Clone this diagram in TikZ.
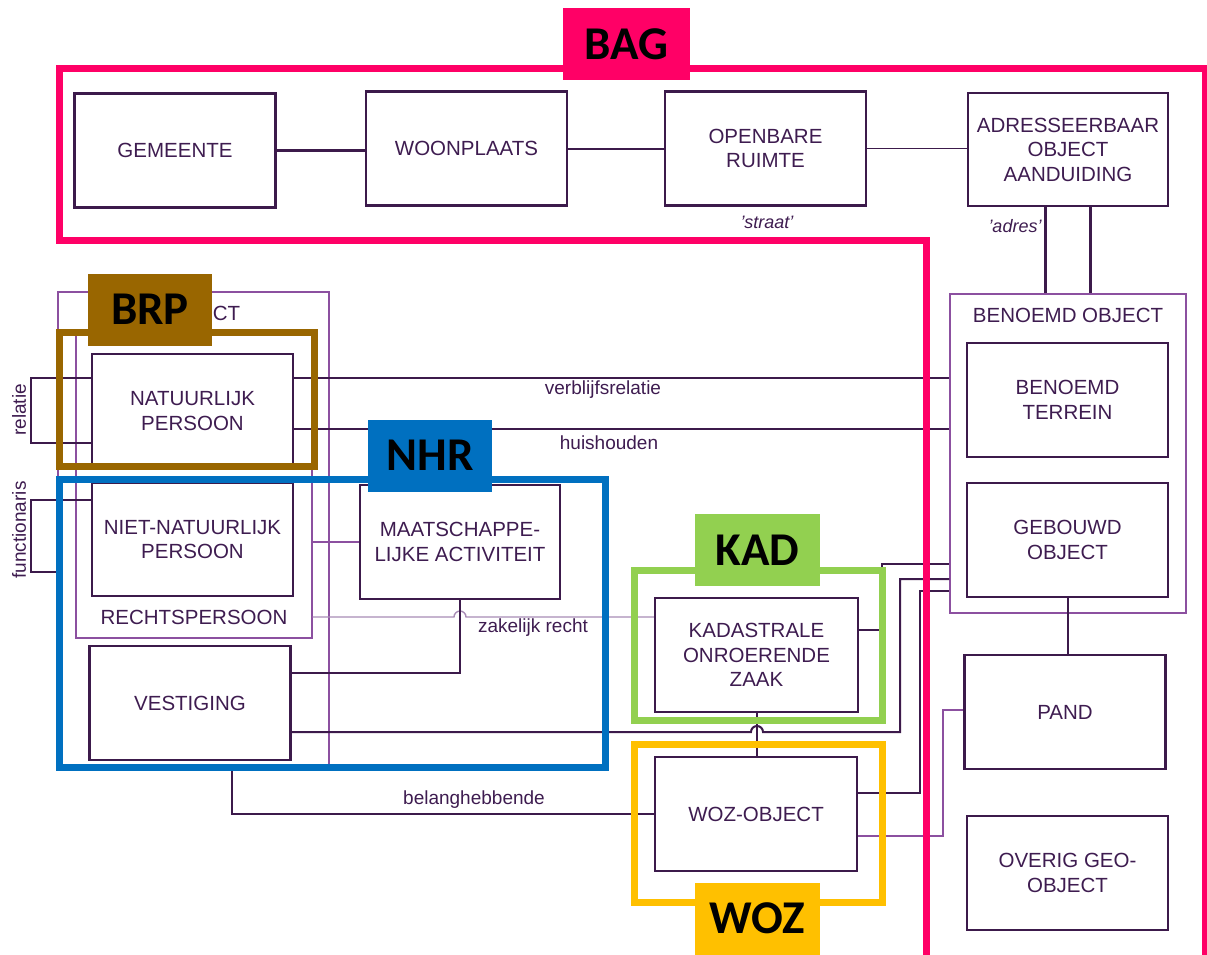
\documentclass[tikz,border=0pt]{standalone}
\usepackage{fontspec}
\setmainfont{Liberation Sans}
\newfontfamily\badgefont{Carlito}

\definecolor{boxline}{HTML}{3C1A4B}
\definecolor{boxtext}{HTML}{3E1C50}
\definecolor{thinline}{HTML}{8C50A0}
\definecolor{paleline}{HTML}{A88CB6}
\definecolor{bagpink}{HTML}{FF0066}
\definecolor{brpbrown}{HTML}{996600}
\definecolor{nhrblue}{HTML}{0070C0}
\definecolor{kadgreen}{HTML}{92D050}
\definecolor{wozgold}{HTML}{FFC000}

\tikzset{
  entity/.style={draw=boxline, line width=2.2pt, minimum width=201pt, minimum height=114pt,
    inner sep=0pt, align=center, text=boxtext, font=\fontsize{20.5}{24.5}\selectfont},
  group/.style={draw=thinline, line width=1.3pt, inner sep=0pt},
  grouptitle/.style={text=boxtext, font=\fontsize{20.5}{24.5}\selectfont},
  link/.style={draw=boxline, line width=2pt},
  thinlink/.style={draw=thinline, line width=1.4pt},
  palelink/.style={draw=paleline, line width=1.4pt},
  linklabel/.style={text=boxtext, font=\fontsize{19}{22}\selectfont},
  rolelabel/.style={text=boxtext, font=\fontsize{18}{22}\selectfont\itshape},
  regframe/.style={line width=7pt},
  badge/.style={minimum width=125pt, minimum height=72pt, inner sep=0pt, text=black,
    font=\badgefont\bfseries\fontsize{47}{50}\selectfont},
}

\begin{document}
\begin{tikzpicture}[x=1pt,y=-1pt]
		\useasboundingbox (0,0) rectangle (1207,954);
		
		% groups
		\node[group, minimum width=271pt, minimum height=476pt] (subj) at (193.5,530) {};
		\node[grouptitle] at (193.5,313) {SUBJECT};
		\node[group, minimum width=236pt, minimum height=303pt] (rp) at (194,486.5) {};
		\node[grouptitle] at (194,617) {RECHTSPERSOON};
		\node[group, minimum width=236pt, minimum height=319pt] (bo) at (1068,453.5) {};
		\node[grouptitle] at (1068,315) {BENOEMD OBJECT};
		
		% BAG
		\node[entity] (gem) at (175,150.5) {GEMEENTE};
		\node[entity] (woon) at (466.5,148.5) {WOONPLAATS};
		\node[entity] (opr) at (765.5,148.5) {OPENBARE\\RUIMTE};
		\node[entity, minimum width=200pt, minimum height=113pt] (aoa) at (1068,149.5) {ADRESSEERBAAR\\OBJECT\\AANDUIDING};
		\node[entity] (bt) at (1067.5,400) {BENOEMD\\TERREIN};
		\node[entity] (go) at (1067.5,540) {GEBOUWD\\OBJECT};
		\node[entity] (pand) at (1065,712) {PAND};
		\node[entity] (ovg) at (1067.5,873) {OVERIG GEO-\\OBJECT};
		
		% subjects
		\node[entity] (np) at (192.5,411) {NATUURLIJK\\PERSOON};
		\node[entity, minimum height=113pt] (nnp) at (192.5,539.5) {NIET-NATUURLIJK\\PERSOON};
		\node[entity] (vest) at (190,703) {VESTIGING};
		\node[entity, minimum width=200pt] (ma) at (460,542) {MAATSCHAPPE-\\LIJKE ACTIVITEIT};
		
		% KAD / WOZ
		\node[entity, minimum width=203pt] (koz) at (756.5,655) {KADASTRALE\\ONROERENDE\\ZAAK};
		\node[entity, minimum width=202pt] (woz) at (756,814) {WOZ-OBJECT};
		
		% BAG links
		\draw[link, line width=3pt] (gem.east) -- (gem.east -| woon.west);
		\draw[link] (woon.east) -- (opr.west);
		\draw[thinlink, draw=boxline] (opr.east) -- (opr.east -| aoa.west);
		\node[rolelabel] at (767,222) {'straat'};
		\node[rolelabel] at (1015,226) {'adres'};
		\draw[link, line width=3pt] (aoa.south -| 1045,0) -- (bo.north -| 1045,0);
		\draw[link, line width=3pt] (aoa.south -| 1090,0) -- (bo.north -| 1090,0);
		\draw[link] (go.south) -- (go.south |- pand.north);
		
		% subject links
		\draw[link] (np.west |- 0,378) -| (31,443) -- (np.west |- 0,443);
		\node[linklabel, rotate=90] at (19,410) {relatie};
		\draw[link] (nnp.west |- 0,500) -| (31,572) -- (subj.west |- 0,572);
		\node[linklabel, rotate=90] at (19,530) {functionaris};
		\draw[link] (np.east |- 0,378) -- (bo.west |- 0,378);
		\node[linklabel] at (603,390) {verblijfsrelatie};
		\draw[link] (np.east |- 0,429) -- (bo.west |- 0,429);
		\node[linklabel] at (609,443) {huishouden};
		\draw[thinlink] (rp.east |- ma.west) -- (ma.west);
		\draw[palelink] (rp.east |- 0,617) -- (454,617) arc[start angle=180, end angle=360, radius=6] -- (koz.west |- 0,617);
		\node[linklabel] at (533,628) {zakelijk recht};
		\draw[link] (ma.south) |- (vest.east |- 0,673);
		\draw[link] (vest.east |- 0,732) -- (751,732) arc[start angle=180, end angle=360, radius=6] -- (900,732) |- (bo.west |- 0,579);
		\draw[link] (subj.south -| 232,0) |- (woz.west);
		\node[linklabel] at (474,800) {belanghebbende};
		
		% KAD / WOZ links
		\draw[link] (koz.south) -- (koz.south |- woz.north);
		\draw[thinlink, draw=boxline] (koz.east |- 0,630) -| (882,564) -- (bo.west |- 0,564);
		\draw[thinlink, draw=boxline] (woz.east |- 0,793) -| (920,591) -- (bo.west |- 0,591);
		\draw[thinlink] (woz.east |- 0,836) -| (943,710) -- (pand.west |- 0,710);
		
		% registers
		\draw[regframe, bagpink] (59,240) -- (59,68) -- (1205,68) -- (1205,958) -- (926,958) -- (926,240) -- cycle;
		\draw[regframe, brpbrown] (59,332) rectangle (314,466);
		\draw[regframe, nhrblue] (59,479) rectangle (605,767);
		\draw[regframe, kadgreen] (634,570) rectangle (882,720);
		\draw[regframe, wozgold] (634,744) rectangle (882,902);
		
		\node[badge, fill=bagpink, minimum width=127pt] (bag) at (626.5,44) {BAG};
		\node[badge, fill=brpbrown, minimum width=124pt] (brp) at (150,309.5) {BRP};
		\node[badge, fill=nhrblue, minimum width=124pt] (nhr) at (430,455.5) {NHR};
		\node[badge, fill=kadgreen] (kad) at (757.5,550) {KAD};
		\node[badge, fill=wozgold] (wozb) at (757.5,918.5) {WOZ};
		\end{tikzpicture}
\end{document}
